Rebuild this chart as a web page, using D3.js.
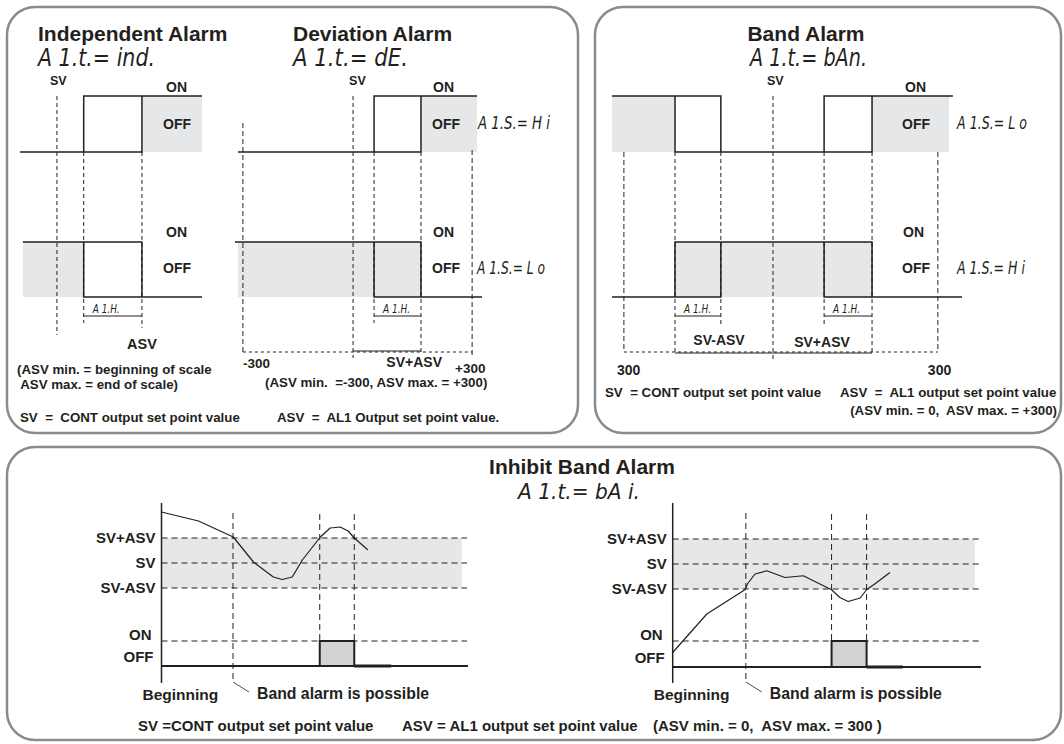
<!DOCTYPE html>
<meta charset="utf-8">
<head>
  <title>Alarm types</title>
  <style>
    body { margin: 0; background: #fff; }
    text { font-family: "Liberation Sans", Arial, sans-serif; fill: #231f20; white-space: pre; }
    .b { font-weight: bold; }
    .seg { font-family: "DejaVu Sans"; font-style: italic; font-weight: 200; }
  </style>
</head>
<body>
<script src="https://d3js.org/d3.v7.min.js"></script>
<script>
var WIDTH = 1064,
    HEIGHT = 744,
    INK = "#231f20",
    SHADE = "#e6e7e8",
    PULSE = "#d1d3d4",
    FRAME = "#8a8a8a";

// ---- top diagrams: x in % of the drawn range, level 0 = OFF, 1 = ON ----
// independent alarm
var indTopLines = [[[0,0],[67,0],[67,1],[100,1]], [[35,0],[35,1],[67,1]]];
var indTopShade = [[67,100]];
var indBotLines = [[[1.6,1],[67,1],[67,0]], [[35,1],[35,0],[100,0]]];
var indBotShade = [[1.6,35]];
var indMarks = [20.3, 35, 67];          // SV, ASV-hys, ASV

// deviation alarm
var devTopLines = [[[1.2,0],[75.3,0],[75.3,1],[98,1]], [[56.3,0],[56.3,1],[75.3,1]]];
var devTopShade = [[75.3,98]];
var devBotLines = [[[0,1],[75.3,1],[75.3,0]], [[56.3,1],[56.3,0],[100,0]]];
var devBotShade = [[1.2,75.3]];
var devMarks = [3.2, 47.8, 56.3, 75.3, 96];   // -300, SV, hys, SV+ASV, +300

// band alarm
var bandTopLines = [[[0,1],[31.1,1],[31.1,0]], [[18,1],[18,0],[74.3,0],[74.3,1]], [[60.6,0],[60.6,1],[97.4,1]]];
var bandTopShade = [[0,18],[74.3,96.3]];
var bandBotLines = [[[0,0],[31.1,0],[31.1,1]], [[18,0],[18,1],[74.3,1],[74.3,0],[100,0]], [[60.6,1],[60.6,0],[74.3,0]]];
var bandBotShade = [[18,74.3]];
var bandMarks = [3.4, 18, 31.1, 46, 60.6, 74.3, 93.1];

// ---- inhibit band alarm: time in %, value in ASV units around SV ----
var bandLevels = [1, 0, -1];
var bandLabels = ["SV+ASV", "SV", "SV-ASV"];
var inhLeftPV = [[0,2.04],[12.1,1.68],[23.5,1.04],[30.1,0.04],[36.6,-0.56],[39.5,-0.66],[42.8,-0.56],
                 [46.1,0.12],[52.0,1.04],[55.2,1.4],[58.5,1.44],[61.1,1.28],[63.1,1.0],[67.6,0.52]];
var inhRightPV = [[0,-3.54],[11.1,-2.0],[23.5,-1.03],[24.3,-0.8],[26.8,-0.4],[30.6,-0.27],[36.5,-0.54],
                  [42.5,-0.47],[46.9,-0.74],[51.7,-1.03],[54.4,-1.34],[57.1,-1.5],[61.0,-1.36],[63.1,-1.03],
                  [66.4,-0.74],[70.7,-0.34]];
var inhLeftEvents = [23.4, 51.8, 63.1, 75.2];   // possible, on, off, tail end
var inhRightEvents = [23.8, 51.7, 63.1, 74.9];

var svg = d3.select("body").append("svg")
    .attr("width", WIDTH)
    .attr("height", HEIGHT);

// frames
[[7,7,571,426],[595,7,466,426],[7,447,1054,293]].forEach(function(f) {
  svg.append("rect")
    .attr("x", f[0]).attr("y", f[1]).attr("width", f[2]).attr("height", f[3])
    .attr("rx", 28).attr("fill", "none")
    .attr("stroke", FRAME).attr("stroke-width", 2.5);
});

function txt(x, y, s, size, cls, anchor) {
  return svg.append("text").attr("x", x).attr("y", y)
    .attr("class", cls || "b").attr("font-size", size)
    .attr("text-anchor", anchor || "start").text(s);
}

function seg(x, y, s, size, len) {
  return svg.append("text").attr("x", x).attr("y", y)
    .attr("class", "seg").attr("font-size", size)
    .attr("textLength", len).attr("lengthAdjust", "spacingAndGlyphs").text(s);
}

function vline(x, y0, y1, dash, w) {
  svg.append("line").attr("x1", x).attr("x2", x).attr("y1", y0).attr("y2", y1)
    .attr("stroke", INK).attr("stroke-width", w || 1)
    .attr("stroke-dasharray", dash || null);
}

function hline(x0, x1, y, dash, w) {
  svg.append("line").attr("x1", x0).attr("x2", x1).attr("y1", y).attr("y2", y)
    .attr("stroke", INK).attr("stroke-width", w || 1)
    .attr("stroke-dasharray", dash || null);
}

var rowTop = d3.scaleLinear().domain([0, 1]).range([152, 96]);
var rowBot = d3.scaleLinear().domain([0, 1]).range([297, 242]);
var SMALL = 13.3;

function wave(x, y, lines, shade) {
  svg.append("g").selectAll("rect").data(shade).join("rect")
    .attr("x", d => x(d[0])).attr("width", d => x(d[1]) - x(d[0]))
    .attr("y", y(1)).attr("height", y(0) - y(1))
    .attr("fill", SHADE);
  var line = d3.line().x(d => x(d[0])).y(d => y(d[1]));
  svg.append("g").selectAll("path").data(lines).join("path")
    .attr("d", line).attr("fill", "none")
    .attr("stroke", INK).attr("stroke-width", 1.5);
}

function hysLabel(x, a, b) {
  hline(x(a), x(b), 316, null, 1);
  seg(x(a) + 9, 313, "A 1.H.", 12, 27);
}

// ---------- Independent alarm ----------
var xInd = d3.scaleLinear().domain([0, 100]).range([20, 202]);
txt(38, 41, "Independent Alarm", 21);
seg(38, 66, "A 1.t.= ind.", 25, 117);
wave(xInd, rowTop, indTopLines, indTopShade);
wave(xInd, rowBot, indBotLines, indBotShade);
vline(xInd(indMarks[0]), 96, 335, "4,3");
vline(xInd(indMarks[1]), 152, 323, "4,3");
vline(xInd(indMarks[2]), 152, 328, "4,3");
txt(xInd(indMarks[0]) - 7, 85, "SV", 12.5);
txt(166, 92, "ON", 14); txt(163, 129, "OFF", 14);
txt(166, 237, "ON", 14); txt(163, 273, "OFF", 14);
hysLabel(xInd, indMarks[1], indMarks[2]);
txt(xInd(indMarks[2]), 349, "ASV", 14.5, "b", "middle");
txt(17, 374, "(ASV min. = beginning of scale", SMALL);
txt(17, 389, " ASV max. = end of scale)", SMALL);
txt(20, 422, "SV  =  CONT output set point value", SMALL);

// ---------- Deviation alarm ----------
var xDev = d3.scaleLinear().domain([0, 100]).range([235, 482]);
txt(293, 41, "Deviation Alarm", 21);
seg(293, 66, "A 1.t.= dE.", 25, 115);
wave(xDev, rowTop, devTopLines, devTopShade);
wave(xDev, rowBot, devBotLines, devBotShade);
vline(xDev(devMarks[0]), 123, 352, "5,3");
vline(xDev(devMarks[1]), 96, 358, "4,3");
vline(xDev(devMarks[2]), 152, 323, "4,3");
vline(xDev(devMarks[3]), 152, 352, "4,3");
vline(xDev(devMarks[4]), 150, 358, "5,3");
hline(xDev(devMarks[0]), xDev(devMarks[4]), 352, "3,3");
hline(xDev(devMarks[1]), xDev(devMarks[3]), 351, null, 1.2);
txt(xDev(devMarks[1]) - 4, 85, "SV", 12.5);
txt(433, 92, "ON", 14); txt(432, 129, "OFF", 14);
txt(433, 237, "ON", 14); txt(432, 273, "OFF", 14);
seg(478, 129, "A 1.S.= H i", 17, 72);
seg(477, 274, "A 1.S.= L o", 17, 68);
hysLabel(xDev, devMarks[2], devMarks[3]);
txt(xDev(devMarks[0]), 368, "-300", 13.5);
txt(xDev(devMarks[3]) + 21, 367, "SV+ASV", 14, "b", "end");
txt(xDev(devMarks[4]) - 17, 373, "+300", 13.5);
txt(265, 387, "(ASV min.  =-300, ASV max. = +300)", SMALL);
txt(277, 422, "ASV  =  AL1 Output set point value.", SMALL);

// ---------- Band alarm ----------
var xBand = d3.scaleLinear().domain([0, 100]).range([612, 962]);
txt(806, 41, "Band Alarm", 21, "b", "middle");
seg(750, 66, "A 1.t.= bAn.", 25, 117);
wave(xBand, rowTop, bandTopLines, bandTopShade);
wave(xBand, rowBot, bandBotLines, bandBotShade);
bandMarks.forEach(function(m, i) {
  if (i === 3) vline(xBand(m), 96, 362, "4,3");
  else if (i === 2 || i === 4) vline(xBand(m), 152, 325, "4,3");
  else vline(xBand(m), 152, 352, i === 0 || i === 6 ? "5,3" : "4,3");
});
hline(xBand(bandMarks[0]), xBand(bandMarks[6]), 352, "3,3");
hline(xBand(bandMarks[1]), xBand(bandMarks[5]), 353, null, 1.2);
txt(xBand(bandMarks[3]) - 6, 85, "SV", 12.5);
txt(905, 92, "ON", 14); txt(902, 129, "OFF", 14);
txt(903, 237, "ON", 14); txt(902, 273, "OFF", 14);
seg(957, 129, "A 1.S.= L o", 17, 70);
seg(957, 274, "A 1.S.= H i", 17, 68);
hysLabel(xBand, bandMarks[1], bandMarks[2]);
hysLabel(xBand, bandMarks[4], bandMarks[5]);
txt(719, 345, "SV-ASV", 14, "b", "middle");
txt(822, 347, "SV+ASV", 14, "b", "middle");
txt(xBand(bandMarks[0]) - 7, 375, "300", 14);
txt(xBand(bandMarks[6]) - 10, 375, "300", 14);
txt(605, 397, "SV  = CONT output set point value", SMALL);
txt(840, 397, "ASV  =  AL1 output set point value", SMALL);
txt(1057, 415, "(ASV min. = 0,  ASV max. = +300)", SMALL, "b", "end");

// ---------- Inhibit band alarm ----------
txt(582, 474, "Inhibit Band Alarm", 21, "b", "middle");
seg(518, 499, "A 1.t.= bA i.", 21, 122);

function inhibit(x0, x1, pvY, onY, offY, pv, ev) {
  var x = d3.scaleLinear().domain([0, 100]).range([x0, x1]);
  var y = d3.scaleLinear().domain([-1, 1]).range(pvY);
  svg.append("rect").attr("x", x(0)).attr("width", x(98.3) - x(0))
    .attr("y", y(1)).attr("height", y(-1) - y(1)).attr("fill", SHADE);
  bandLevels.forEach(function(l, i) {
    hline(x(0), x(100), y(l), "6,4");
    txt(x(0) - 6, y(l) + 5, bandLabels[i], 15, "b", "end");
  });
  hline(x(0), x(100), onY, "6,4");
  txt(x(0) - 10, onY - 1, "ON", 15, "b", "end");
  txt(x(0) - 8, offY - 4, "OFF", 15, "b", "end");
  // output
  svg.append("rect").attr("x", x(ev[1])).attr("width", x(ev[2]) - x(ev[1]))
    .attr("y", onY).attr("height", offY - onY)
    .attr("fill", PULSE).attr("stroke", INK).attr("stroke-width", 2);
  hline(x(0), x(100.3), offY, null, 2);
  hline(x(ev[2]), x(ev[3]), offY, null, 3);
  vline(x(0), 503, 683, null, 1.5);
  // events
  vline(x(ev[0]), 513, 682, "6,4");
  svg.append("line").attr("x1", x(ev[0])).attr("y1", 682)
    .attr("x2", x(ev[0]) + 16).attr("y2", 692)
    .attr("stroke", INK).attr("stroke-width", 0.8);
  vline(x(ev[1]), 514, onY, "6,4");
  vline(x(ev[2]), 514, onY, "6,4");
  // process value
  svg.append("path").datum(pv)
    .attr("d", d3.line().x(d => x(d[0])).y(d => y(d[1])))
    .attr("fill", "none").attr("stroke", INK).attr("stroke-width", 1.2)
    .attr("stroke-linejoin", "round");
  txt(x(0) - 19, 700, "Beginning", 15.5);
  txt(x(ev[0]) + 24, 699, "Band alarm is possible", 15.8);
}

inhibit(161.5, 467, [588, 538], 641, 666, inhLeftPV, inhLeftEvents);
inhibit(672.7, 980, [589, 539], 641, 667, inhRightPV, inhRightEvents);

txt(138, 731, "SV =CONT output set point value", 15);
txt(402, 731, "ASV = AL1 output set point value", 15);
txt(653, 731, "(ASV min. = 0,  ASV max. = 300 )", 15);
</script>
</body>
